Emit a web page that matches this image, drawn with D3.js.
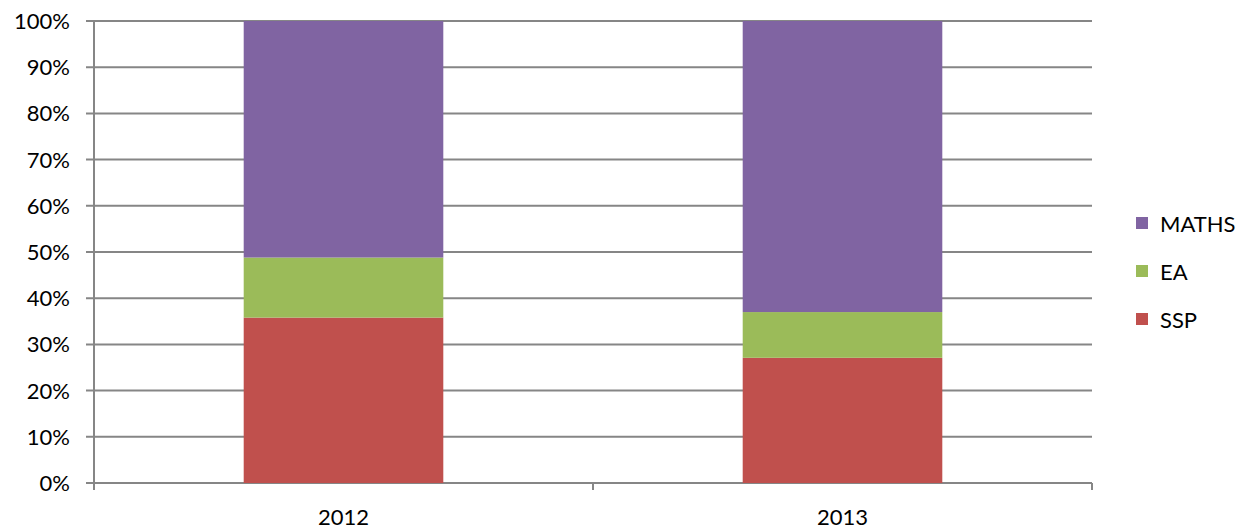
<!DOCTYPE html>
<html>
<head>
<meta charset="utf-8">
<script src="https://cdn.jsdelivr.net/npm/d3@7"></script>
<style>
  body { margin: 0; background: #fff; }
  text { font-family: Lato, "Open Sans", sans-serif; fill: #000; }
</style>
</head>
<body>
<div id="chart"></div>
<script>
// data (percent of each year's total)
const years = ["2012", "2013"];
const subjects = ["SSP", "EA", "MATHS"];
const ssp = [35.8, 27.1];
const ea = [13.0, 9.9];
const maths = [51.2, 63.0];
const yTicks = [0, 10, 20, 30, 40, 50, 60, 70, 80, 90, 100];

const width = 1240, height = 530;
const margin = { top: 21, right: 148, bottom: 47, left: 94 };

const colors = { SSP: "#C0504D", EA: "#9BBB59", MATHS: "#8064A2" };

const rows = years.map((y, i) => ({ year: y, SSP: ssp[i], EA: ea[i], MATHS: maths[i] }));
const stacked = d3.stack().keys(subjects)(rows);

const svg = d3.select("#chart").append("svg")
  .attr("width", width)
  .attr("height", height);

const x = d3.scaleBand()
  .domain(years)
  .range([margin.left, width - margin.right])
  .paddingInner(0.6)
  .paddingOuter(0.3);

const y = d3.scaleLinear()
  .domain([0, 100])
  .range([height - margin.bottom, margin.top]);

// gridlines
svg.append("g")
  .selectAll("line")
  .data(yTicks)
  .join("line")
  .attr("x1", margin.left - 8)
  .attr("x2", width - margin.right)
  .attr("y1", d => y(d))
  .attr("y2", d => y(d))
  .attr("stroke", "#868686")
  .attr("stroke-width", 2);

// y tick labels
svg.append("g")
  .selectAll("text")
  .data(yTicks)
  .join("text")
  .attr("x", margin.left - 24)
  .attr("y", d => y(d))
  .attr("dy", "0.36em")
  .attr("text-anchor", "end")
  .attr("font-size", 22)
  .text(d => d + "%");

// bars
svg.append("g")
  .selectAll("g")
  .data(stacked)
  .join("g")
  .attr("fill", d => colors[d.key])
  .selectAll("rect")
  .data(d => d)
  .join("rect")
  .attr("x", d => x(d.data.year))
  .attr("width", x.bandwidth())
  .attr("y", d => y(d[1]))
  .attr("height", d => y(d[0]) - y(d[1]));

// axes lines
const base = y(0);
svg.append("line")
  .attr("x1", margin.left).attr("x2", margin.left)
  .attr("y1", y(100)).attr("y2", base + 7)
  .attr("stroke", "#868686").attr("stroke-width", 2);

// category boundary ticks
const step = x.step();
const edges = [0, 1, 2].map(i => margin.left + i * step);
svg.append("g")
  .selectAll("line")
  .data(edges)
  .join("line")
  .attr("x1", d => d).attr("x2", d => d)
  .attr("y1", base).attr("y2", base + 7)
  .attr("stroke", "#868686").attr("stroke-width", 2);

// x labels
svg.append("g")
  .selectAll("text")
  .data(years)
  .join("text")
  .attr("x", d => x(d) + x.bandwidth() / 2)
  .attr("y", base + 42)
  .attr("text-anchor", "middle")
  .attr("font-size", 22)
  .text(d => d);

// legend
const legendItems = ["MATHS", "EA", "SSP"];
const legend = svg.append("g")
  .selectAll("g")
  .data(legendItems)
  .join("g")
  .attr("transform", (d, i) => `translate(1136, ${223 + i * 48})`);

legend.append("rect")
  .attr("x", 0).attr("y", -6)
  .attr("width", 12).attr("height", 12)
  .attr("fill", d => colors[d]);

legend.append("text")
  .attr("x", 24)
  .attr("y", 1)
  .attr("dy", "0.36em")
  .attr("font-size", 22)
  .text(d => d);
</script>
</body>
</html>
